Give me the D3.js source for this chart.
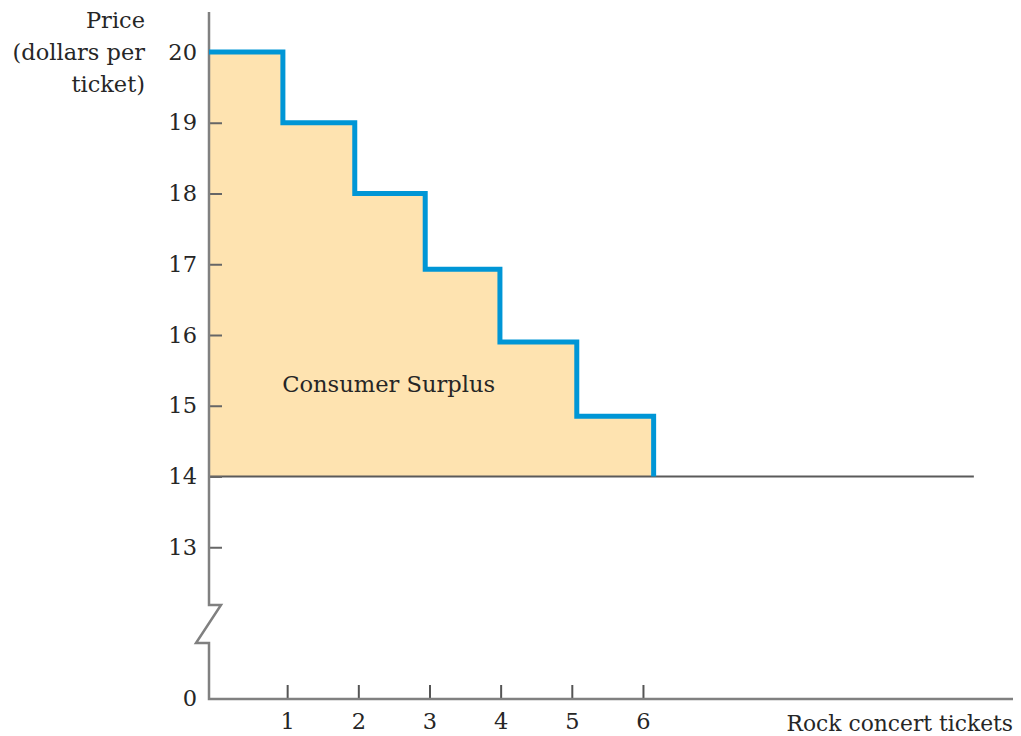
<!DOCTYPE html>
<html lang="en">
    <head>
        <meta charset="utf-8">
        <title>Consumer surplus</title>
        <script type="text/javascript" src="https://cdn.jsdelivr.net/npm/d3@7"></script>
        <style type="text/css">
            body { margin: 0; background: #fff; }
            text { font-family: "DejaVu Serif", serif; fill: #262626; }
        </style>
    </head>
    <body>
        <script type="text/javascript">
            var w = 1021;
            var h = 736;

            //Data
            var tickets = [0.94, 1.95, 2.94, 3.99, 5.07, 6.15];   // where each step ends
            var prices = [20, 19, 18, 16.93, 15.9, 14.85];       // willingness to pay per ticket
            var marketPrice = 14;
            var priceLineEnd = 10.65;
            var yTicks = [13, 14, 15, 16, 17, 18, 19, 20];
            var xTicks = [1, 2, 3, 4, 5, 6];

            var axisX = 209;     // vertical axis
            var axisY = 699;     // horizontal axis
            var breakTop = 605;
            var breakBottom = 643;
            var fs = 22.5;

            var xScale = d3.scaleLinear()
                .domain([0, 11.2])
                .range([216, 1013]);

            var yScale = d3.scaleLinear()
                .domain([14, 20])
                .range([476.5, 52]);

            var svg = d3.select("body")
                .append("svg")
                .attr("width", w)
                .attr("height", h);

            // step points of the demand curve
            var pts = [[axisX, yScale(prices[0])]];
            for (var i = 0; i < tickets.length; i++) {
                pts.push([xScale(tickets[i]), yScale(prices[i])]);
                var next = i + 1 < prices.length ? prices[i + 1] : marketPrice;
                pts.push([xScale(tickets[i]), yScale(next)]);
            }

            // consumer surplus area
            var area = pts.concat([[axisX, yScale(marketPrice)]]);
            svg.append("path")
                .attr("d", d3.line()(area) + "Z")
                .attr("fill", "#fee3b0");

            // market price line
            svg.append("line")
                .attr("x1", axisX)
                .attr("x2", xScale(priceLineEnd))
                .attr("y1", yScale(marketPrice))
                .attr("y2", yScale(marketPrice))
                .attr("stroke", "#5a5a5a")
                .attr("stroke-width", 2);

            // y axis ticks + labels
            var yAxis = d3.axisLeft(yScale)
                .tickValues(yTicks)
                .tickSize(-13)
                .tickPadding(12)
                .tickFormat(d3.format("d"));

            var gy = svg.append("g")
                .attr("transform", "translate(" + axisX + ",0)")
                .call(yAxis);
            gy.select(".domain").remove();
            gy.selectAll(".tick line").attr("stroke", "#666").attr("stroke-width", 2);
            gy.selectAll("text").attr("font-size", fs).attr("font-family", "DejaVu Serif").attr("fill", "#262626");

            // x axis ticks + labels
            var xAxis = d3.axisBottom(xScale)
                .tickValues(xTicks)
                .tickSize(-14)
                .tickPadding(14);

            var gx = svg.append("g")
                .attr("transform", "translate(0," + axisY + ")")
                .call(xAxis);
            gx.select(".domain").remove();
            gx.selectAll(".tick line").attr("stroke", "#555").attr("stroke-width", 2);
            gx.selectAll("text").attr("font-size", fs).attr("font-family", "DejaVu Serif").attr("fill", "#262626");

            // broken axes
            var axisPath = d3.path();
            axisPath.moveTo(axisX, 12);
            axisPath.lineTo(axisX, breakTop);
            axisPath.lineTo(axisX + 12, breakTop);
            axisPath.lineTo(axisX - 13, breakBottom);
            axisPath.lineTo(axisX, breakBottom);
            axisPath.lineTo(axisX, axisY);
            axisPath.lineTo(xScale(11.2), axisY);
            svg.append("path")
                .attr("d", axisPath.toString())
                .attr("fill", "none")
                .attr("stroke", "#808080")
                .attr("stroke-width", 2.5);

            svg.append("text")
                .attr("x", axisX - 12)
                .attr("y", axisY)
                .attr("dy", "0.32em")
                .attr("text-anchor", "end")
                .attr("font-size", fs)
                .text("0");

            // demand steps
            svg.append("path")
                .attr("d", d3.line()(pts))
                .attr("fill", "none")
                .attr("stroke", "#0096d6")
                .attr("stroke-width", 5);

            // labels
            svg.append("text")
                .attr("x", xScale(0.93))
                .attr("y", 392)
                .attr("font-size", 22.6)
                .text("Consumer Surplus");

            var yTitle = ["Price", "(dollars per", "ticket)"];
            svg.selectAll(".ytitle")
                .data(yTitle)
                .enter()
                .append("text")
                .attr("class", "ytitle")
                .attr("x", 145)
                .attr("y", function(d, i) { return 28 + i * 32; })
                .attr("text-anchor", "end")
                .attr("font-size", fs)
                .text(function(d) { return d; });

            svg.append("text")
                .attr("x", 1013)
                .attr("y", 731)
                .attr("text-anchor", "end")
                .attr("font-size", 21.8)
                .text("Rock concert tickets");
        </script>
    </body>
</html>
